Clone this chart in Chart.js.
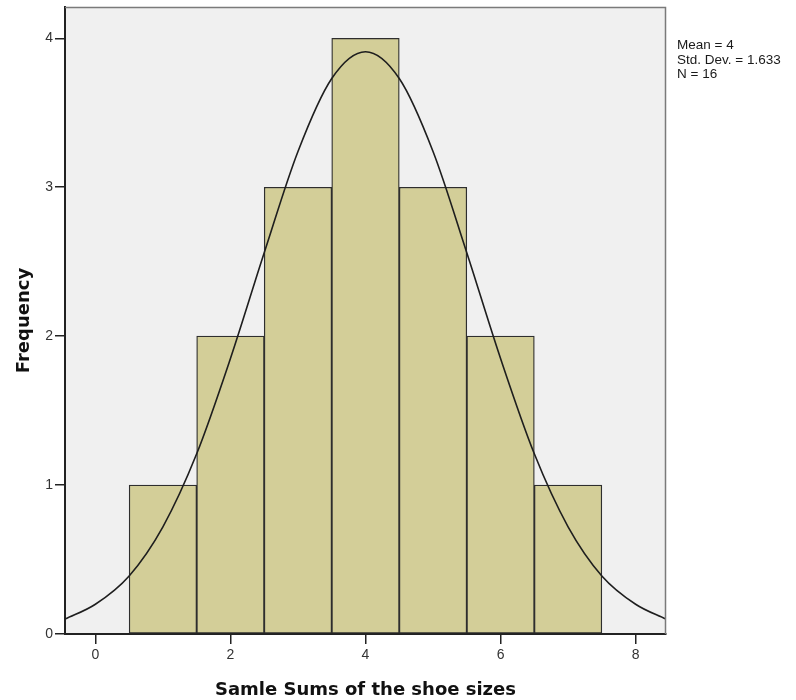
<!DOCTYPE html>
<html>
<head>
<meta charset="utf-8">
<title>Histogram - Samle Sums of the shoe sizes</title>
<script src="https://cdn.jsdelivr.net/npm/chart.js@4/dist/chart.umd.min.js"></script>
<style>
  html, body { margin: 0; padding: 0; background: #fff; }
  #wrap { width: 796px; height: 700px; position: relative; }
</style>
</head>
<body>
<div id="wrap"><canvas id="histChart"></canvas></div>
<script>
/* histogram of sample sums + fitted normal curve (SPSS style) */
const binCenters = [1, 2, 3, 4, 5, 6, 7];
const frequencies = [1, 2, 3, 4, 3, 2, 1];

// normal curve
const curveX = [-0.45, 0, 0.5, 1, 1.5, 2, 2.5, 3, 3.5, 4, 4.5, 5, 5.5, 6, 6.5, 7, 7.5, 8, 8.45];
const curveY = [0.10, 0.20, 0.39, 0.72, 1.21, 1.85, 2.56, 3.24, 3.73, 3.91, 3.73, 3.24, 2.56, 1.85, 1.21, 0.72, 0.39, 0.20, 0.10];

const xTicks = [0, 2, 4, 6, 8];
const yTicks = [0, 1, 2, 3, 4];
const statsLines = ['Mean = 4', 'Std. Dev. = 1.633', 'N = 16'];

const plotBg = {
    id: 'plotBg',
    beforeDraw(chart) {
        const { ctx, chartArea: a } = chart;
        ctx.save();
        ctx.fillStyle = '#f0f0f0';
        ctx.fillRect(a.left, a.top, a.right - a.left, a.bottom - a.top);
        ctx.restore();
    },
    afterDraw(chart) {
        const { ctx, chartArea: a } = chart;
        ctx.save();
        // frame top / right
        ctx.strokeStyle = '#7a7a7a';
        ctx.lineWidth = 1.5;
        ctx.beginPath();
        ctx.moveTo(a.left, a.top + 0.5);
        ctx.lineTo(a.right - 0.5, a.top + 0.5);
        ctx.lineTo(a.right - 0.5, a.bottom);
        ctx.stroke();
        // stats box text
        ctx.fillStyle = '#1a1a1a';
        ctx.font = '13.5px "Liberation Sans", Arial, sans-serif';
        ctx.textBaseline = 'alphabetic';
        statsLines.forEach((s, i) => ctx.fillText(s, a.right + 11, 49 + i * 14.5));
        ctx.restore();
    },
};

const tickFont = { family: '"Liberation Sans", Arial, sans-serif', size: 14 };
const titleFont = { family: '"DejaVu Sans", sans-serif', size: 18, weight: 'bold', lineHeight: 1.1 };

new Chart(document.getElementById('histChart'), {
    type: 'bar',
    data: {
        datasets: [
            {
                type: 'line',
                data: curveX.map((x, i) => ({ x, y: curveY[i] })),
                borderColor: '#1e1e1e',
                borderWidth: 1.6,
                pointRadius: 0,
                fill: false,
                cubicInterpolationMode: 'monotone',
                order: 0,
            },
            {
                type: 'bar',
                data: binCenters.map((x, i) => ({ x, y: frequencies[i] })),
                backgroundColor: '#d3ce98',
                borderColor: '#2e2e2e',
                borderWidth: 1.3,
                borderSkipped: false,
                barPercentage: 1,
                categoryPercentage: 1,
                order: 1,
            },
        ],
    },
    options: {
        responsive: true,
        maintainAspectRatio: false,
        animation: false,
        layout: { padding: { top: 7, right: 130, left: 0, bottom: 0 } },
        plugins: { legend: { display: false }, tooltip: { enabled: false } },
        scales: {
            x: {
                type: 'linear',
                offset: false,
                min: -0.45,
                max: 8.45,
                afterFit: (s) => { s.height = 66; s.paddingLeft = 0; s.paddingRight = 0; },
                afterBuildTicks: (s) => { s.ticks = xTicks.map((v) => ({ value: v })); },
                grid: { offset: false, drawOnChartArea: false, drawTicks: true, tickLength: 10, color: '#222', lineWidth: 1.5 },
                border: { display: true, color: '#222', width: 2 },
                ticks: { color: '#333', font: tickFont, padding: 3, maxRotation: 0 },
                title: { display: true, text: 'Samle Sums of the shoe sizes', color: '#111', font: titleFont, padding: { top: -1, bottom: 0 } },
            },
            y: {
                min: 0,
                max: 4.21,
                afterFit: (s) => { s.width = 65; s.paddingTop = 0; s.paddingBottom = 0; },
                afterBuildTicks: (s) => { s.ticks = yTicks.map((v) => ({ value: v })); },
                grid: { drawOnChartArea: false, drawTicks: true, tickLength: 10, color: '#222', lineWidth: 1.5 },
                border: { display: true, color: '#222', width: 2 },
                ticks: { color: '#333', font: tickFont, padding: 2 },
                title: { display: true, text: 'Frequency', color: '#111', font: titleFont, padding: { top: 14, bottom: 0 } },
            },
        },
    },
    plugins: [plotBg],
});
</script>
</body>
</html>
